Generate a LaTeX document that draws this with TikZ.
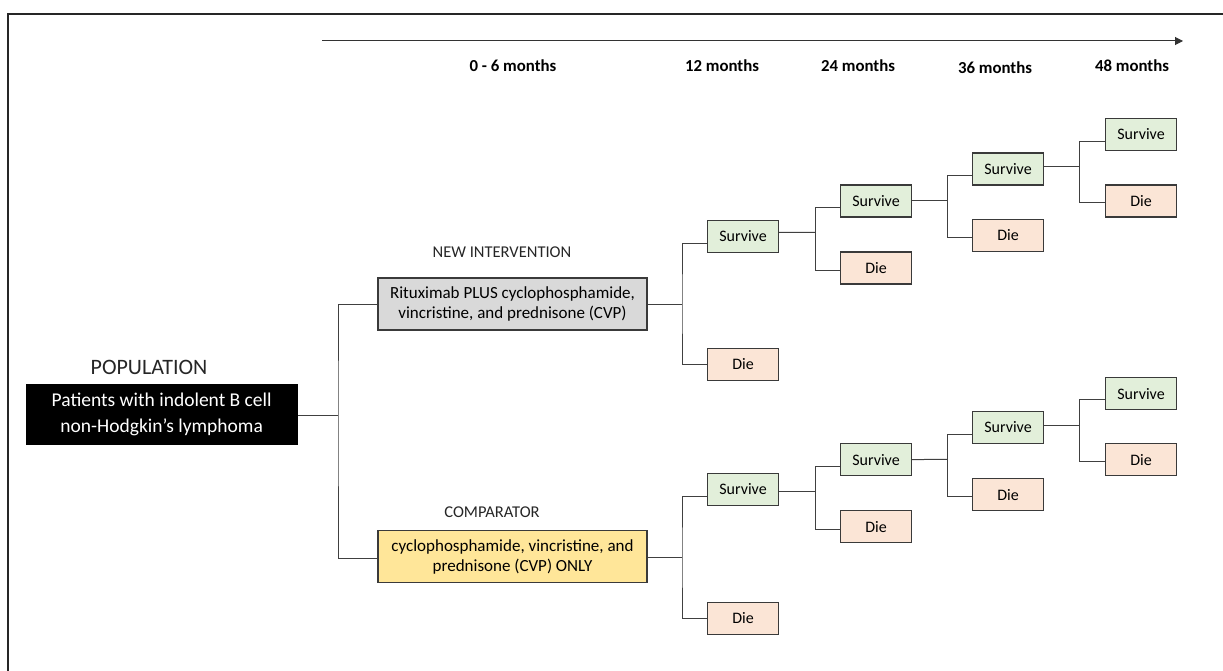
\documentclass[tikz,border=0pt]{standalone}
\usepackage{fontspec}
\setmainfont{Carlito}
\usetikzlibrary{arrows.meta}
\definecolor{survfill}{HTML}{E2EFDA}
\definecolor{diefill}{HTML}{FBE5D6}
\definecolor{greyfill}{HTML}{D9D9D9}
\definecolor{yelfill}{HTML}{FFE699}
\definecolor{edge}{HTML}{3A3A3A}
\begin{document}
\begin{tikzpicture}[x=1pt,y=-1pt,
  box/.style={draw=edge, line width=1.2pt, minimum width=71pt, minimum height=32pt, inner sep=0pt, font=\fontsize{16}{18}\selectfont},
  surv/.style={box, fill=survfill},
  die/.style={box, fill=diefill},
  armbox/.style={draw=edge, line width=1.2pt, minimum width=269pt, minimum height=52pt, inner sep=0pt, align=center, font=\fontsize{17}{20}\selectfont},
  conn/.style={draw=black!75, line width=1pt},
  tlabel/.style={font=\fontsize{16.8}{19}\selectfont\bfseries, inner sep=0pt},
  armlabel/.style={font=\fontsize{16.5}{18}\selectfont, inner sep=0pt, text=black!85}
]
\useasboundingbox (0,0) rectangle (1223,671);
% frame
\draw[line width=2.2pt, black!85] (8,700) -- (8,14) -- (1240,14);
% time axis
\coordinate (a0) at (322,41);
\coordinate (a1) at (1183,41);
\draw[line width=1pt, black!80, -{Triangle[length=8pt,width=8pt]}] (a0) -- (a1);
\node[tlabel] (t0) at (513,66) {0 - 6 months};
\node[tlabel] (t1) at (722,66) {12 months};
\node[tlabel] (t2) at (858,66) {24 months};
\node[tlabel] (t3) at (995,68) {36 months};
\node[tlabel] (t4) at (1132,66) {48 months};

% population
\node[font=\fontsize{22}{24}\selectfont, inner sep=0pt, text=black!85] (poplab) at (149,367) {POPULATION};
\node[fill=black, text=white, minimum width=272pt, minimum height=61pt, inner sep=0pt, align=center, font=\fontsize{19.5}{26}\selectfont] (pop) at (161.7,414.5) {Patients with indolent B cell\\non-Hodgkin’s lymphoma};

% arms
\node[armlabel] (newlab) at (502,252) {NEW INTERVENTION};
\node[armbox, fill=greyfill] (grey) at (512.5,304) {Rituximab PLUS cyclophosphamide,\\vincristine, and prednisone (CVP)};
\node[armlabel] (complab) at (492,512) {COMPARATOR};
\node[armbox, fill=yelfill] (yel) at (512.5,556.5) {cyclophosphamide, vincristine, and\\prednisone (CVP) ONLY};

% top tree
\node[surv] (s1) at (743,236.5) {Survive};
\node[die]  (d1) at (743,364.5) {Die};
\node[surv] (s2) at (876,201) {Survive};
\node[die]  (d2) at (876,268) {Die};
\node[surv] (s3) at (1008,169) {Survive};
\node[die]  (d3) at (1008,235.5) {Die};
\node[surv] (s4) at (1141,134.5) {Survive};
\node[die]  (d4) at (1141,201) {Die};

% bottom tree
\node[surv] (s1b) at (743,489.5) {Survive};
\node[die]  (d1b) at (743,618.5) {Die};
\node[surv] (s2b) at (876,459.6) {Survive};
\node[die]  (d2b) at (876,526.7) {Die};
\node[surv] (s3b) at (1008,427.5) {Survive};
\node[die]  (d3b) at (1008,494.6) {Die};
\node[surv] (s4b) at (1141,393.6) {Survive};
\node[die]  (d4b) at (1141,459.6) {Die};

% main split
\coordinate (j0) at (338,415.7);
\draw[conn] (pop.east |- j0) -- (j0);
\draw[conn] (grey.west) -| (j0) |- ([yshift=-1.5pt]yel.west);

% top forks
\coordinate (ja) at (682,304);
\draw[conn] (grey.east) -- (ja);
\draw[conn] ([yshift=-7pt]s1.west) -| (ja) |- (d1.west);
\coordinate (jb) at (815,232.3);
\draw[conn] ([yshift=4pt]s1.east) -- (jb);
\draw[conn] ([yshift=-7pt]s2.west) -| (jb) |- ([yshift=-2pt]d2.west);
\coordinate (jc) at (947,201);
\draw[conn] (s2.east) -- (jc);
\draw[conn] ([yshift=-7pt]s3.west) -| (jc) |- ([yshift=-2pt]d3.west);
\coordinate (jd) at (1079,166.3);
\draw[conn] ([yshift=2.7pt]s3.east) -- (jd);
\draw[conn] ([yshift=-7pt]s4.west) -| (jd) |- ([yshift=-2pt]d4.west);

% bottom forks
\coordinate (jab) at (682,557.7);
\draw[conn] ([yshift=-1.2pt]yel.east) -- (jab);
\draw[conn] ([yshift=-7pt]s1b.west) -| (jab) |- (d1b.west);
\coordinate (jbb) at (815,491.3);
\draw[conn] ([yshift=-1.8pt]s1b.east) -- (jbb);
\draw[conn] ([yshift=-7pt]s2b.west) -| (jbb) |- ([yshift=-2.6pt]d2b.west);
\coordinate (jcb) at (947,459.3);
\draw[conn] (s2b.east) -- (jcb);
\draw[conn] ([yshift=-7pt]s3b.west) -| (jcb) |- ([yshift=-2pt]d3b.west);
\coordinate (jdb) at (1079,425.3);
\draw[conn] ([yshift=2.2pt]s3b.east) -- (jdb);
\draw[conn] ([yshift=-6pt]s4b.west) -| (jdb) |- ([yshift=-2pt]d4b.west);
\end{tikzpicture}
\end{document}
